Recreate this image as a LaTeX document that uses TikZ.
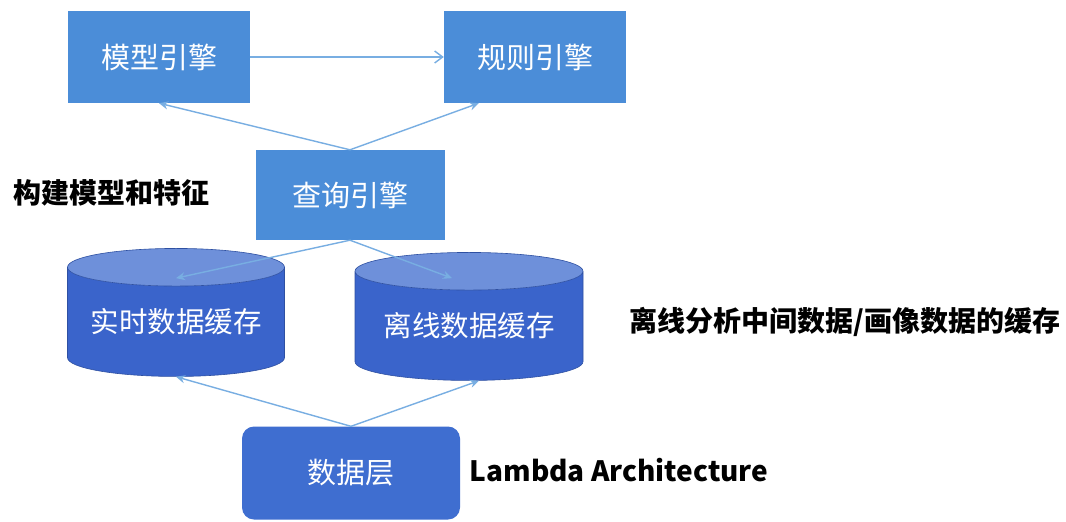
\documentclass[tikz,border=0pt]{standalone}
\usepackage{fontspec}
\newfontfamily\cjk{Noto Sans CJK SC}
\usetikzlibrary{shapes.geometric,arrows.meta}
\definecolor{boxblue}{HTML}{4B8DD8}
\definecolor{cylblue}{HTML}{3A64CB}
\definecolor{cyltop}{HTML}{6E90DA}
\definecolor{datablue}{HTML}{3F6ED0}
\definecolor{linkblue}{HTML}{78AEE2}
\tikzset{
	engine/.style={rectangle, fill=boxblue, text=white, minimum width=182pt, minimum height=92pt, inner sep=0pt, font=\cjk\fontsize{29}{32}\selectfont},
	cache/.style={cylinder, shape border rotate=90, aspect=0.22, cylinder uses custom fill, cylinder body fill=cylblue, cylinder end fill=cyltop, draw=cylblue!80!black, line width=0.6pt, inner sep=0pt, text=white, font=\cjk\fontsize{28.5}{32}\selectfont},
	link/.style={draw=linkblue, line width=1.4pt, -{Stealth[length=9pt,width=8pt]}},
	note/.style={text=black, font=\cjk\bfseries\fontsize{28}{32}\selectfont}
}
\begin{document}
\begin{tikzpicture}[x=1pt,y=-1pt]
	\useasboundingbox (0,0) rectangle (1066,522);
	\fill[white] (0,0) rectangle (1066,522);

	\node[engine] (mdl) at (159,57) {模型引擎};
	\node[engine] (rule) at (535,57) {规则引擎};
	\node[engine, minimum width=189pt, minimum height=90pt] (qry) at (350,195) {查询引擎};

	\node[cache, minimum width=217pt, minimum height=128pt] (rt) at (176,322) {实时数据缓存};
	\node[cache, minimum width=228pt, minimum height=128pt] (off) at (469,326) {离线数据缓存};

	\node[engine, fill=datablue, rounded corners=12pt, minimum width=218pt, minimum height=93pt] (data) at (351,473) {数据层};

	\node[note] (feat) at (111,193) {构建模型和特征};
	\node[note] (offnote) at (845,322) {离线分析中间数据/画像数据的缓存};
	\node[note] (lambda) at (619,470) {Lambda Architecture};

	\draw[link, -{Straight Barb[length=8pt,width=12pt]}] (mdl) -- (rule);
	\draw[link] (qry.north) -- (mdl.south);
	\draw[link] (qry.north) -- ([xshift=35pt]rule.south west);
	\draw[link] (qry.south) -- ([yshift=-30pt]rt.north);
	\draw[link] (qry.south) -- ([xshift=-17pt,yshift=-26pt]off.north);
	\draw[link] (data.north) -- (rt.south);
	\draw[link] (data.north) -- ([xshift=10pt]off.south);
\end{tikzpicture}
\end{document}
